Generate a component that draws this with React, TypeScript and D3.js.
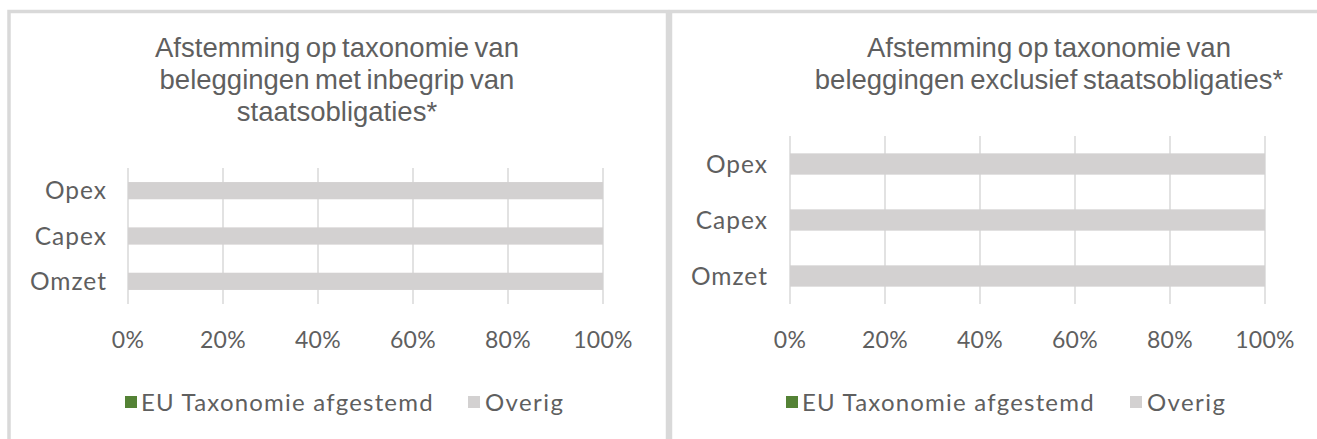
import React from "react";
import * as d3 from "d3";

const categories = ["Opex", "Capex", "Omzet"];
const euAligned = [0, 0, 0];
const overig = [100, 100, 100];
const xTicks = [0, 20, 40, 60, 80, 100];
const legendLabels = ["EU Taxonomie afgestemd", "Overig"];
const titleLeft = ["Afstemming op taxonomie van", "beleggingen met inbegrip van", "staatsobligaties*"];
const titleRight = ["Afstemming op taxonomie van", "beleggingen exclusief staatsobligaties*"];

const GREEN = "#548235";
const GRAY = "#d3d1d1";
const GRID = "#d9d9d9";
const TEXT = "#5f5f5f";
const BORDER = "#d9d9d9";
const LABEL_FONT = "Lato, 'Open Sans', sans-serif";
const TITLE_FONT = "'Liberation Sans', Arial, sans-serif";

type PanelProps = {
  title: string[];
  titleX: number;
  x0: number;
  x1: number;
  yTop: number;
  yBottom: number;
  catRight: number;
  legendX: number;
  legendGap: number;
};

function Panel(p: PanelProps) {
  const x = d3.scaleLinear().domain([0, 100]).range([p.x0, p.x1]);
  const y = d3.scaleBand().domain(categories).range([p.yTop, p.yBottom]).paddingInner(0.62).paddingOuter(0.31);
  const rows = categories.map((c, i) => ({ c, eu: euAligned[i], ov: overig[i] }));
  return (
    <g>
      {p.title.map((t, i) => (
        <text key={i} x={p.titleX} y={57 + i * 32} textAnchor="middle" fontFamily={TITLE_FONT} fontSize={27.5} fill={TEXT} wordSpacing={-2}>
          {t}
        </text>
      ))}
      {xTicks.map((t) => (
        <line key={t} x1={x(t)} x2={x(t)} y1={p.yTop} y2={p.yBottom} stroke={GRID} strokeWidth={1.5} />
      ))}
      {rows.map((r) => (
        <g key={r.c}>
          <rect x={x(0)} y={y(r.c)!} width={x(r.eu) - x(0)} height={y.bandwidth()} fill={GREEN} />
          <rect x={x(r.eu)} y={y(r.c)!} width={x(r.eu + r.ov) - x(r.eu)} height={y.bandwidth()} fill={GRAY} />
          <text x={p.catRight} y={y(r.c)! + y.bandwidth() / 2} dy="0.36em" textAnchor="end" fontFamily={LABEL_FONT} fontSize={24.5} letterSpacing={1.0} fill={TEXT}>
            {r.c}
          </text>
        </g>
      ))}
      {xTicks.map((t) => (
        <text key={"l" + t} x={x(t)} y={348} textAnchor="middle" fontFamily={LABEL_FONT} fontSize={23} letterSpacing={0.3} fill={TEXT}>
          {t + "%"}
        </text>
      ))}
      <rect x={p.legendX} y={396} width={12} height={12} fill={GREEN} />
      <text x={p.legendX + 16} y={410.5} fontFamily={LABEL_FONT} fontSize={24} letterSpacing={1.2} fill={TEXT}>
        {legendLabels[0]}
      </text>
      <rect x={p.legendX + p.legendGap} y={396} width={12} height={12} fill={GRAY} />
      <text x={p.legendX + p.legendGap + 17} y={410.5} fontFamily={LABEL_FONT} fontSize={24} letterSpacing={1.4} fill={TEXT}>
        {legendLabels[1]}
      </text>
    </g>
  );
}

export default function App() {
  return (
    <svg width={1317} height={439} style={{ position: "absolute", left: 0, top: 0, background: "#fff" }}>
      <rect x={0} y={0} width={1317} height={439} fill="#fff" />
      <rect x={9} y={11.5} width={658.5} height={440} fill="none" stroke={BORDER} strokeWidth={3.5} />
      <rect x={670.5} y={11.5} width={660} height={440} fill="none" stroke={BORDER} strokeWidth={3.5} />
      <Panel title={titleLeft} titleX={337} x0={128} x1={603} yTop={168} yBottom={304} catRight={107} legendX={125} legendGap={343} />
      <Panel title={titleRight} titleX={1049} x0={790} x1={1265} yTop={136} yBottom={304} catRight={768} legendX={786} legendGap={344} />
    </svg>
  );
}
